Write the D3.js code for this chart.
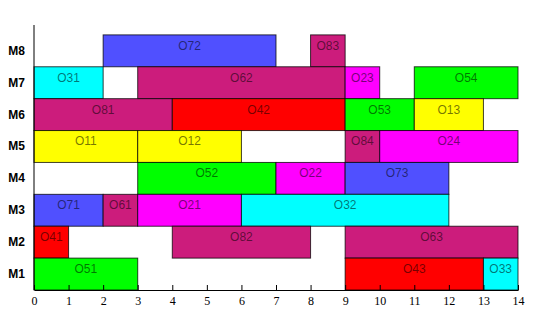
<!DOCTYPE html>
<html><head><meta charset="utf-8">
<script src="https://cdn.jsdelivr.net/npm/d3@7"></script>
<style>body{margin:0;background:#fff}</style>
</head><body>
<svg id="c" width="534" height="312"></svg>
<script>
const machines = ["M1","M2","M3","M4","M5","M6","M7","M8"];
const opNames  = ["O72","O83","O31","O62","O23","O54","O81","O42","O53","O13","O11","O12","O84","O24","O52","O22","O73","O71","O61","O21","O32","O41","O82","O63","O51","O43","O33"];
const opMachine= ["M8","M8","M7","M7","M7","M7","M6","M6","M6","M6","M5","M5","M5","M5","M4","M4","M4","M3","M3","M3","M3","M2","M2","M2","M1","M1","M1"];
const opStart  = [2,8,0,3,9,11,0,4,9,11,0,3,9,10,3,7,9,0,2,3,6,0,4,9,0,9,13];
const opEnd    = [7,9,2,9,10,14,4,9,11,13,3,6,10,14,7,9,12,2,3,6,12,1,8,14,3,13,14];
const xTicks   = [0,1,2,3,4,5,6,7,8,9,10,11,12,13,14];
const jobColors = {"1":"#ffff00","2":"#ff00ff","3":"#00ffff","4":"#ff0000","5":"#00ff00","6":"#cc1c7c","7":"#5050ff","8":"#cc1c7c"};

const svg = d3.select("#c");
const x = d3.scaleLinear().domain([0,14]).range([34,518]);
const y = d3.scaleLinear().domain([0,8.31]).range([290,25]);
const rowIdx = m => machines.indexOf(m);

const ops = opNames.map((n,i)=>({name:n,m:opMachine[i],s:opStart[i],e:opEnd[i]}));

svg.append("g").selectAll("rect").data(ops).join("rect")
  .attr("x",d=>x(d.s)).attr("width",d=>x(d.e)-x(d.s))
  .attr("y",d=>y(rowIdx(d.m)+1)).attr("height",d=>y(rowIdx(d.m))-y(rowIdx(d.m)+1))
  .attr("fill",d=>jobColors[d.name[1]])
  .attr("stroke","rgba(0,0,0,0.75)").attr("stroke-width",1);

svg.append("g").selectAll("text").data(ops).join("text")
  .attr("x",d=>(x(d.s)+x(d.e))/2)
  .attr("y",d=>(y(rowIdx(d.m)+1)+y(rowIdx(d.m)))/2-1)
  .attr("text-anchor","middle")
  .attr("font-family","Arial, 'Liberation Sans', sans-serif").attr("font-size",12)
  .attr("fill","rgba(0,0,0,0.55)")
  .text(d=>d.name);

// x axis
const xa = svg.append("g").attr("transform","translate(0,290)")
  .call(d3.axisBottom(x).tickValues(xTicks).tickFormat(d3.format("d")).tickSizeInner(-5).tickSizeOuter(0).tickPadding(4));
xa.select(".domain").attr("stroke","#000");
xa.selectAll(".tick line").attr("stroke","#000");
xa.selectAll("text").attr("font-family","'Liberation Serif','Times New Roman',serif").attr("font-size",12).attr("fill","#000").attr("dy","0.95em").attr("y",4);

// y axis line
svg.append("line").attr("x1",x(0)).attr("x2",x(0)).attr("y1",y(8.31)).attr("y2",y(0)).attr("stroke","#000");

svg.append("g").selectAll("text").data(machines).join("text")
  .attr("x",25).attr("y",(d,i)=>(y(i)+y(i+1))/2+4)
  .attr("text-anchor","end")
  .attr("font-family","Arial, 'Liberation Sans', sans-serif").attr("font-weight","bold").attr("font-size",12)
  .text(d=>d);
</script>
</body></html>
